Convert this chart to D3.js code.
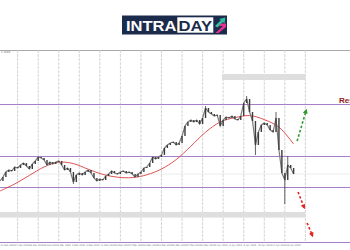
<!DOCTYPE html>
<html>
<head>
<meta charset="utf-8">
<script src="https://cdn.jsdelivr.net/npm/d3@7"></script>
<style>
  body { margin: 0; background: #fff; }
  svg { display: block; }
</style>
</head>
<body>
<svg id="chart" width="350" height="250"></svg>
<script>
// closing prices, one per bar (bar 0 at the left edge)
var closes = [
  1.2505, 1.2525, 1.2550, 1.2560, 1.2555, 1.2575, 1.2570, 1.2585, 1.2595, 1.2580,
  1.2565, 1.2590, 1.2605, 1.2625, 1.2620, 1.2610, 1.2585, 1.2600, 1.2590, 1.2600,
  1.2605, 1.2585, 1.2560, 1.2570, 1.2550, 1.2500, 1.2535, 1.2545, 1.2535, 1.2550,
  1.2560, 1.2545, 1.2520, 1.2505, 1.2515, 1.2510, 1.2530, 1.2540, 1.2555, 1.2545,
  1.2540, 1.2550, 1.2555, 1.2545, 1.2550, 1.2540, 1.2525, 1.2540, 1.2550, 1.2570,
  1.2575, 1.2595, 1.2625, 1.2615, 1.2625, 1.2635, 1.2670, 1.2685, 1.2695, 1.2700,
  1.2685, 1.2695, 1.2730, 1.2780, 1.2800, 1.2810, 1.2800, 1.2810, 1.2790, 1.2820,
  1.2870, 1.2850, 1.2840, 1.2830, 1.2835, 1.2780, 1.2810, 1.2825, 1.2820, 1.2830,
  1.2815, 1.2810, 1.2830, 1.2895, 1.2915, 1.2850, 1.2805, 1.2685, 1.2750, 1.2785,
  1.2795, 1.2785, 1.2760, 1.2750, 1.2820, 1.2660, 1.2545, 1.2510, 1.2585, 1.2570,
  1.2540
];

// long wicks that stick out of the bodies
var wicks = [
  { i: 25, p: 1.2490 }, { i: 70, p: 1.2880 }, { i: 84, p: 1.2930 },
  { i: 87, p: 1.2635 }, { i: 94, p: 1.2850 }, { i: 97, p: 1.2390 },
  { i: 98, p: 1.2630 }
];

// moving average, every 5th bar
var maIndex = [0, 5, 10, 15, 20, 25, 30, 35, 40, 45, 50, 55, 60, 65, 70, 75, 80, 85, 90, 95, 100];
var maValues = [1.2455, 1.2490, 1.2533, 1.2575, 1.2599, 1.2592, 1.2564, 1.2538, 1.2524, 1.2522,
                1.2536, 1.2565, 1.2612, 1.2679, 1.2749, 1.2800, 1.2822, 1.2832, 1.2812, 1.2774, 1.2690];

// horizontal support / resistance levels
var levels = [1.2890, 1.2630, 1.2473, 1.2199];
// grey zones: [from bar, to bar, low, high]
var zones = [[75.6, 104, 1.3010, 1.3040], [-1, 104, 1.2322, 1.2350]];

var gridBars = d3.range(6, 105, 7);
var dateLabels = ["21 Feb 2020", "24 Feb 2020", "26 Feb 2020", "28 Feb 2020", "3 Mar 2020", "5 Mar 2020",
  "9 Mar 2020", "11 Mar 2020", "13 Mar 2020", "17 Mar 2020", "19 Mar 2020", "23 Mar 2020",
  "25 Mar 2020", "27 Mar 2020", "31 Mar 2020", "2 Apr 2020", "6 Apr 2020", "8 Apr 2020",
  "10 Apr 2020", "14 Apr 2020", "16 Apr 2020"];
var topPrice = "1.3160";

// forecast arrows [bar0, price0, bar1, price1]
var upArrow = [101.2, 1.2705, 104.2, 1.2855];
var downArrows = [[101.5, 1.2450, 103.5, 1.2375], [104.6, 1.2295, 106.3, 1.2235]];

var svg = d3.select("#chart");
var x = d3.scaleLinear().domain([0, 119.2]).range([0, 350]);
var y = d3.scaleLinear().domain([1.2200, 1.3160]).range([242, 50]);

var defs = svg.append("defs");
function marker(id, color) {
    defs.append("marker")
        .attr("id", id)
        .attr("viewBox", "0 0 10 10")
        .attr("refX", 5).attr("refY", 5)
        .attr("markerWidth", 3).attr("markerHeight", 3)
        .attr("orient", "auto")
        .append("path")
        .attr("d", "M0,0 L10,5 L0,10 z")
        .attr("fill", color);
}
marker("headGreen", "#2f9a30");
marker("headRed", "#e3231f");

// top border
svg.append("line")
    .attr("x1", 0).attr("x2", 350)
    .attr("y1", y(1.3160)).attr("y2", y(1.3160))
    .attr("stroke", "#a8a8a8").attr("stroke-width", 1)
    .attr("shape-rendering", "crispEdges");

svg.append("text")
    .attr("x", 1).attr("y", y(1.3160) + 3)
    .attr("font-family", "DejaVu Sans").attr("font-size", 2.6)
    .attr("fill", "#666").text(topPrice);

// vertical grid
svg.selectAll(".vgrid").data(gridBars).enter().append("line")
    .attr("x1", function(d) { return x(d); })
    .attr("x2", function(d) { return x(d); })
    .attr("y1", y(1.3160)).attr("y2", y(1.2199))
    .attr("stroke", "#c9c9c9").attr("stroke-width", 0.8)
    .attr("stroke-dasharray", "3,1");

// zones
svg.selectAll(".zone").data(zones).enter().append("rect")
    .attr("x", function(d) { return Math.max(0, x(d[0])); })
    .attr("width", function(d) { return x(d[1]) - Math.max(0, x(d[0])); })
    .attr("y", function(d) { return y(d[3]); })
    .attr("height", function(d) { return y(d[2]) - y(d[3]); })
    .attr("fill", "#dedede");

// bid line
svg.append("line")
    .attr("x1", 0).attr("x2", 350)
    .attr("y1", y(closes[closes.length - 1])).attr("y2", y(closes[closes.length - 1]))
    .attr("stroke", "#e6e6e6").attr("stroke-width", 0.8);

// levels
svg.selectAll(".level").data(levels).enter().append("line")
    .attr("x1", 0).attr("x2", 350)
    .attr("y1", function(d) { return y(d); })
    .attr("y2", function(d) { return y(d); })
    .attr("stroke", "#a77fc8").attr("stroke-width", 1)
    .attr("shape-rendering", "crispEdges");

// moving average
var ma = maIndex.map(function(d, i) { return [d, maValues[i]]; });
svg.append("path")
    .attr("d", d3.line()
        .x(function(d) { return x(d[0]); })
        .y(function(d) { return y(d[1]); })
        .curve(d3.curveCatmullRom)(ma))
    .attr("fill", "none")
    .attr("stroke", "#d9413f").attr("stroke-width", 0.9);

// wicks
svg.selectAll(".wick").data(wicks).enter().append("line")
    .attr("x1", function(d) { return x(d.i); })
    .attr("x2", function(d) { return x(d.i); })
    .attr("y1", function(d) { return y(d.p); })
    .attr("y2", function(d) { return y(closes[d.i]); })
    .attr("stroke", "#3a3a3a").attr("stroke-width", 0.8);

// price as a zigzag line + bodies
svg.append("path")
    .attr("d", d3.line()
        .x(function(d, i) { return x(i); })
        .y(function(d) { return y(d); })(closes))
    .attr("fill", "none")
    .attr("stroke", "#7a7a7a").attr("stroke-width", 1.2);

svg.selectAll(".body").data(closes.slice(1)).enter().append("rect")
    .attr("x", function(d, i) { return x(i + 1) - 0.7; })
    .attr("width", 1.4)
    .attr("y", function(d, i) { return y(Math.max(d, closes[i])); })
    .attr("height", function(d, i) { return Math.max(0.6, Math.abs(y(d) - y(closes[i]))); })
    .attr("fill", "#3c3c3c");

// date labels
svg.selectAll(".date").data(dateLabels).enter().append("text")
    .attr("x", function(d, i) { return x(i * 4.87) + 0.5; })
    .attr("y", 246)
    .attr("font-family", "DejaVu Sans").attr("font-size", 2.3)
    .attr("fill", "#777")
    .text(function(d) { return d; });

// forecast arrows
function arrow(a, color, head) {
    svg.append("line")
        .attr("x1", x(a[0])).attr("y1", y(a[1]))
        .attr("x2", x(a[2])).attr("y2", y(a[3]))
        .attr("stroke", color).attr("stroke-width", 1.6)
        .attr("stroke-dasharray", "2.5,2")
        .attr("marker-end", "url(#" + head + ")");
}
arrow(upArrow, "#2f9a30", "headGreen");
downArrows.forEach(function(a) { arrow(a, "#e3231f", "headRed"); });

// label runs off the right edge, as in the original screenshot
svg.append("text")
    .attr("x", 339).attr("y", y(levels[0]) - 1.5)
    .attr("font-family", "Liberation Sans, Arial").attr("font-weight", "bold")
    .attr("font-size", 8).attr("fill", "#8e1a1a")
    .text("Resistance");

// logo
var logo = svg.append("g");
logo.append("rect").attr("x", 122).attr("y", 15.5).attr("width", 105).attr("height", 19)
    .attr("fill", "#1c2b4b");
logo.append("text").attr("x", 126).attr("y", 30.8)
    .attr("font-family", "Liberation Sans, Arial").attr("font-weight", "bold")
    .attr("font-size", 15.5).attr("fill", "#fff")
    .attr("textLength", 50.5).attr("lengthAdjust", "spacingAndGlyphs")
    .text("INTRA");
logo.append("rect").attr("x", 177.3).attr("y", 17.3).attr("width", 36).attr("height", 15.4)
    .attr("fill", "#fff");
logo.append("text").attr("x", 178.6).attr("y", 30.8)
    .attr("font-family", "Liberation Sans, Arial").attr("font-weight", "bold")
    .attr("font-size", 15.5).attr("fill", "#1c2b4b")
    .attr("textLength", 33.5).attr("lengthAdjust", "spacingAndGlyphs")
    .text("DAY");
logo.append("path").attr("d", "M215,26 L221,20 L219,19 L225.5,17.5 L224.5,23.5 L223,22 L217.5,27.5 Z")
    .attr("fill", "#2dbfa0");
logo.append("path").attr("d", "M215.5,33 L223,26 L219,26 L221,23.5 L226,23.5 L226,27 L218.5,33 Z")
    .attr("fill", "#e8318f");
</script>
</body>
</html>
